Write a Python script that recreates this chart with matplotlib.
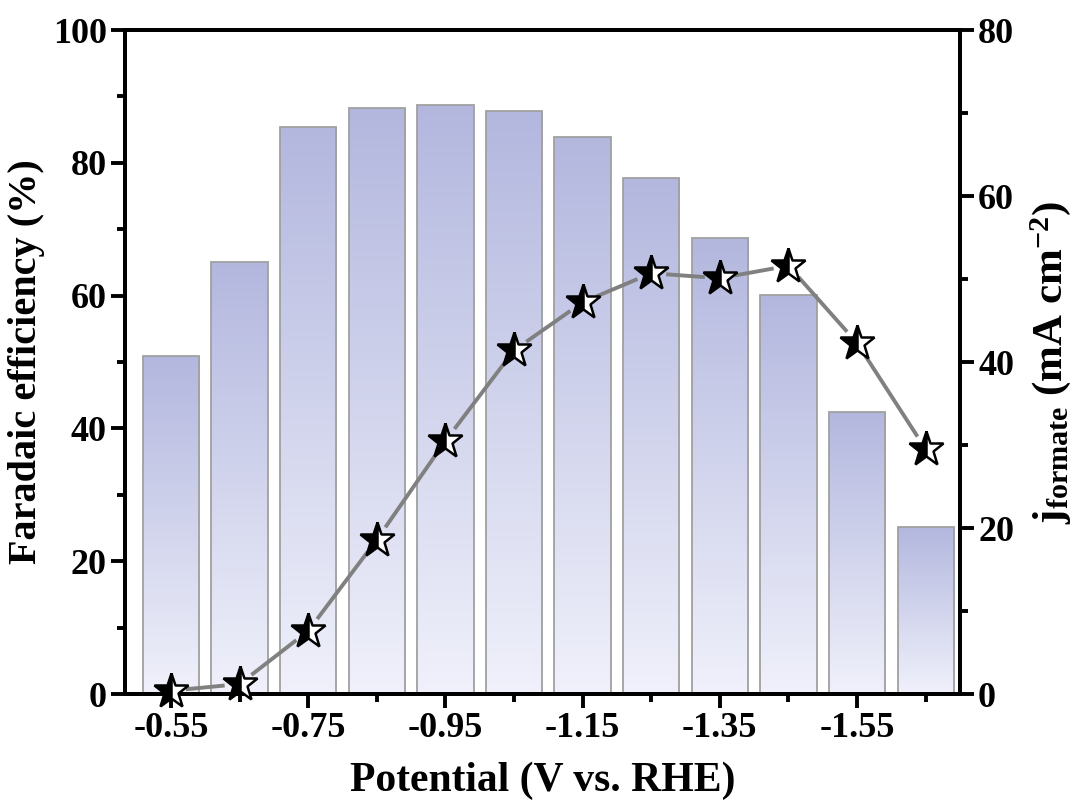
import matplotlib
matplotlib.use("Agg")
import matplotlib.pyplot as plt
import numpy as np
from matplotlib.colors import LinearSegmentedColormap

plt.rcParams["font.family"] = "Liberation Serif"
plt.rcParams["font.weight"] = "bold"
plt.rcParams["mathtext.fontset"] = "custom"
plt.rcParams["mathtext.rm"] = "Liberation Serif:bold"
plt.rcParams["mathtext.it"] = "Liberation Serif:bold"
plt.rcParams["mathtext.bf"] = "Liberation Serif:bold"

potentials = ["-0.55", "-0.65", "-0.75", "-0.85", "-0.95", "-1.05",
              "-1.15", "-1.25", "-1.35", "-1.45", "-1.55", "-1.65"]
fe = [50.9, 65.1, 85.4, 88.3, 88.7, 87.8, 83.9, 77.7, 68.7, 60.1, 42.5, 25.2]
j_formate = [0.4, 1.2, 7.6, 18.6, 30.5, 41.4, 47.2, 50.7, 50.1, 51.6, 42.3, 29.5]

x = np.arange(len(potentials))

fig = plt.figure(figsize=(10.89, 8.07), dpi=100)
ax = fig.add_axes([0.1148, 0.140, 0.7667, 0.8228])

cmap = LinearSegmentedColormap.from_list("lav", ["#f0f1fb", "#b3b7de"])
grad = np.linspace(0, 1, 256).reshape(-1, 1)
bars = ax.bar(x, fe, width=0.82, facecolor="none", edgecolor="#a0a0a0",
              linewidth=1.3, zorder=2)
for b in bars:
    bx, by = b.get_x(), b.get_y()
    w, h = b.get_width(), b.get_height()
    im = ax.imshow(grad, cmap=cmap, origin="lower", aspect="auto",
                   extent=[bx, bx + w, by, by + h], zorder=1)
    im.set_clip_path(b)

ax.set_xlim(-0.67, 11.5)
ax.set_ylim(0, 100)
ax.set_xticks(x[::2])
ax.set_xticklabels(potentials[::2])
ax.set_xticks(x[1::2], minor=True)
ax.set_yticks(np.arange(0, 101, 20))
ax.set_yticks(np.arange(10, 100, 20), minor=True)
ax.set_xlabel("Potential (V vs. RHE)", fontsize=30, fontweight="bold", labelpad=12)
ax.set_ylabel("Faradaic efficiency (%)", fontsize=29, fontweight="bold", labelpad=6)

ax2 = ax.twinx()
ax2.set_ylim(0, 80)

# connecting line with small gaps around each star (done in pixel space)
gap = 15
pts = ax2.transData.transform(np.column_stack([x, j_formate]))
inv = ax2.transData.inverted()
for p0, p1 in zip(pts[:-1], pts[1:]):
    d = p1 - p0
    u = d / np.hypot(*d)
    seg = inv.transform(np.array([p0 + u * gap, p1 - u * gap]))
    ax2.plot(seg[:, 0], seg[:, 1], color="#808080", linewidth=2.8,
             solid_capstyle="butt", zorder=3)
ax2.plot(x, j_formate, linestyle="none", marker="*", markersize=26,
         fillstyle="left", markerfacecolor="black", markerfacecoloralt="white",
         markeredgecolor="black", markeredgewidth=1.8, zorder=4, clip_on=False)
ax2.set_yticks(np.arange(0, 81, 20))
ax2.set_yticks(np.arange(10, 80, 20), minor=True)
ax2.set_ylabel(r"j$_{\mathrm{formate}}$ (mA cm$^{-2}$)", fontsize=31,
               fontweight="bold", labelpad=10)

for a in (ax, ax2):
    for s in a.spines.values():
        s.set_linewidth(2.8)
    a.tick_params(which="major", direction="out", length=10, width=2.8,
                  labelsize=26, pad=3)
    a.tick_params(which="minor", direction="out", length=6, width=2.8)
    for lab in a.get_xticklabels() + a.get_yticklabels():
        lab.set_fontweight("bold")

fig.savefig("out.png", dpi=100)
plt.close(fig)
